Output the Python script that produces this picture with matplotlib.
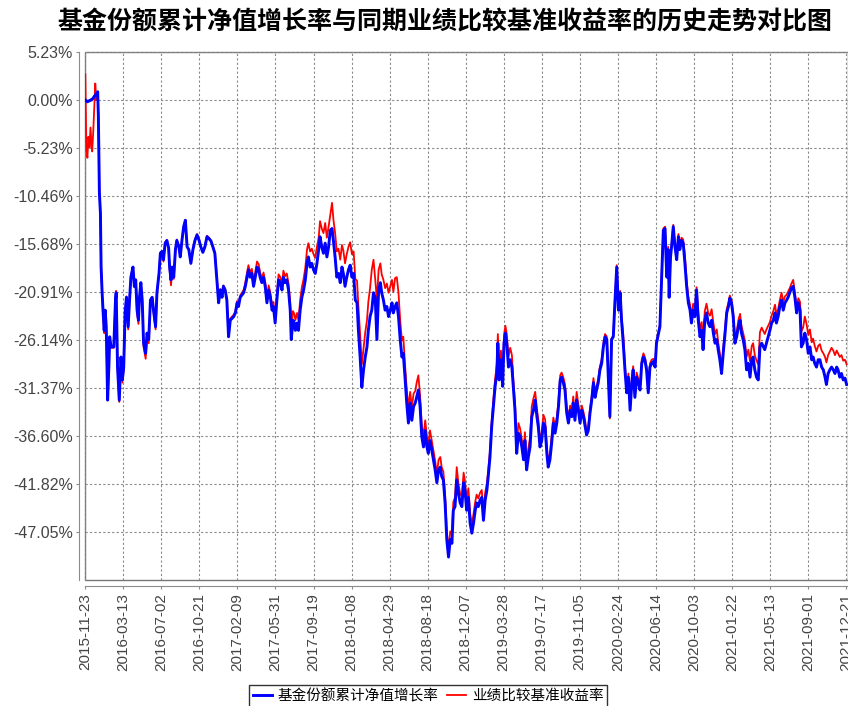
import matplotlib
matplotlib.use('Agg')
import matplotlib.pyplot as plt
import pandas as pd
from matplotlib.patches import Rectangle

# 数据：自基金成立日起的天数，以及两条曲线的百分比
start_date = '2015-11-23'
day_offset = [
    0, 3, 6, 9, 12, 15, 18, 20, 23, 26,
    29, 32, 35, 36, 38, 41, 44, 46, 49, 52,
    55, 58, 61, 65, 69, 71, 75, 83, 88, 90,
    94, 99, 104, 108, 112, 116, 120, 125, 129, 133,
    139, 143, 147, 151, 155, 158, 162, 166, 170, 176,
    180, 185, 190, 195, 199, 205, 209, 215, 219, 224,
    228, 233, 238, 243, 246, 250, 254, 258, 263, 267,
    273, 277, 282, 287, 292, 297, 302, 308, 314, 320,
    326, 332, 337, 343, 349, 355, 361, 367, 372, 378,
    384, 389, 394, 399, 403, 408, 413, 418, 423, 433,
    438, 443, 447, 452, 462, 467, 472, 476, 481, 486,
    491, 496, 501, 506, 510, 515, 520, 525, 530, 535,
    540, 545, 549, 554, 559, 564, 569, 574, 578, 583,
    588, 593, 598, 601, 606, 610, 613, 618, 622, 627,
    632, 637, 642, 647, 651, 656, 661, 666, 671, 676,
    681, 685, 690, 695, 700, 705, 710, 715, 720, 724,
    729, 734, 739, 744, 749, 753, 758, 763, 768, 773,
    778, 783, 788, 793, 797, 802, 807, 812, 817, 822,
    826, 831, 836, 841, 846, 851, 856, 861, 865, 870,
    875, 880, 885, 890, 895, 899, 904, 909, 914, 919,
    924, 928, 933, 938, 943, 948, 953, 958, 963, 967,
    972, 977, 982, 987, 992, 997, 1001, 1006, 1011, 1016,
    1021, 1026, 1031, 1036, 1040, 1045, 1050, 1055, 1060, 1065,
    1070, 1074, 1079, 1084, 1089, 1094, 1099, 1104, 1108, 1113,
    1118, 1123, 1128, 1133, 1138, 1142, 1147, 1152, 1157, 1162,
    1167, 1172, 1176, 1181, 1186, 1191, 1196, 1201, 1204, 1208,
    1213, 1218, 1222, 1226, 1230, 1235, 1240, 1245, 1249, 1254,
    1259, 1264, 1269, 1274, 1279, 1283, 1288, 1293, 1298, 1303,
    1308, 1313, 1318, 1322, 1327, 1332, 1337, 1342, 1347, 1351,
    1356, 1361, 1366, 1371, 1376, 1381, 1386, 1390, 1395, 1400,
    1405, 1410, 1415, 1420, 1424, 1429, 1434, 1439, 1444, 1449,
    1454, 1459, 1463, 1468, 1473, 1478, 1483, 1488, 1492, 1497,
    1502, 1507, 1512, 1517, 1522, 1526, 1531, 1536, 1541, 1546,
    1551, 1556, 1561, 1565, 1570, 1575, 1580, 1585, 1590, 1595,
    1599, 1604, 1609, 1614, 1619, 1624, 1629, 1633, 1638, 1643,
    1648, 1653, 1658, 1663, 1667, 1672, 1677, 1682, 1687, 1692,
    1697, 1701, 1704, 1708, 1711, 1716, 1721, 1726, 1731, 1735,
    1740, 1745, 1750, 1755, 1760, 1765, 1769, 1774, 1779, 1784,
    1789, 1794, 1799, 1803, 1808, 1813, 1818, 1823, 1828, 1833,
    1838, 1843, 1847, 1852, 1857, 1862, 1867, 1872, 1877, 1881,
    1886, 1891, 1896, 1901, 1906, 1911, 1915, 1920, 1925, 1930,
    1935, 1940, 1945, 1949, 1954, 1959, 1964, 1969, 1974, 1979,
    1983, 1988, 1993, 1998, 2003, 2008, 2013, 2017, 2022, 2027,
    2032, 2037, 2042, 2047, 2051, 2056, 2061, 2066, 2071, 2076,
    2081, 2086, 2090, 2095, 2100, 2105, 2110, 2115, 2120, 2124,
    2129, 2134, 2139, 2144, 2149, 2154, 2159, 2163, 2168, 2173,
    2178, 2183, 2188, 2193, 2197, 2202, 2207, 2212, 2217, 2222,
]
fund_growth = [
    0.0, -0.1, -0.2, -0.1, -0.1, 0.0, 0.0, 0.1, 0.2, 0.4,
    0.5, 0.7, 0.6, 0.9, -1.8, -10.1, -12.3, -18.2, -21.0, -23.2,
    -25.1, -22.9, -24.7, -32.7, -28.7, -25.8, -26.9, -26.9, -21.8, -21.0,
    -29.1, -32.7, -28.0, -30.5, -29.1, -23.2, -21.5, -24.7, -21.8, -19.3,
    -18.2, -20.3, -19.6, -22.9, -24.0, -21.5, -19.9, -21.8, -26.5, -27.6,
    -25.4, -26.1, -21.8, -21.5, -22.9, -24.7, -21.0, -18.9, -16.7, -16.5,
    -17.4, -15.6, -15.3, -16.1, -18.2, -19.6, -18.2, -19.3, -16.3, -15.3,
    -16.0, -17.1, -15.3, -13.8, -13.1, -16.0, -16.3, -17.8, -16.3, -15.3,
    -14.7, -15.3, -16.0, -16.6, -16.0, -14.9, -15.1, -15.4, -16.0, -16.7,
    -19.6, -22.1, -20.7, -21.5, -20.3, -20.7, -21.8, -25.8, -24.0, -23.6,
    -23.2, -22.1, -22.5, -21.5, -21.0, -20.3, -19.3, -18.5, -19.3, -18.9,
    -20.3, -19.3, -18.2, -18.5, -19.3, -19.9, -19.3, -20.3, -22.1, -20.7,
    -21.5, -22.9, -22.5, -24.3, -21.8, -19.6, -19.9, -20.7, -19.3, -19.9,
    -19.6, -20.7, -22.9, -26.1, -24.0, -24.3, -25.1, -24.3, -25.1, -22.9,
    -21.5, -20.7, -19.6, -17.8, -17.1, -18.2, -17.8, -18.5, -18.9, -17.8,
    -16.3, -14.9, -16.0, -16.7, -15.6, -17.1, -16.0, -14.2, -14.0, -15.3,
    -17.1, -19.3, -18.9, -19.9, -18.2, -18.9, -20.3, -19.3, -18.5, -18.0,
    -19.3, -18.9, -21.8, -22.1, -25.1, -28.0, -31.3, -29.4, -28.0, -26.9,
    -25.1, -23.6, -22.9, -21.0, -21.5, -26.1, -20.7, -19.9, -21.0, -21.8,
    -22.9, -22.5, -23.6, -22.9, -22.1, -23.2, -22.5, -22.1, -23.6, -26.1,
    -28.0, -27.6, -30.2, -33.0, -35.2, -33.0, -34.9, -33.4, -33.0, -32.4,
    -31.6, -33.4, -36.7, -37.8, -36.0, -37.8, -38.5, -37.1, -38.1, -39.2,
    -40.3, -41.7, -40.3, -40.0, -41.0, -41.4, -43.9, -47.9, -49.8, -47.9,
    -48.3, -44.7, -44.3, -41.4, -42.8, -43.9, -44.3, -41.7, -42.5, -44.7,
    -43.3, -46.1, -47.2, -46.1, -44.7, -43.9, -44.3, -43.6, -43.3, -45.8,
    -43.6, -42.5, -41.0, -38.9, -35.6, -33.4, -31.2, -29.8, -26.5, -30.5,
    -28.3, -31.2, -26.5, -25.4, -26.5, -29.1, -28.3, -29.1, -31.2, -33.8,
    -38.5, -36.3, -36.7, -37.8, -39.2, -37.1, -40.3, -38.9, -37.8, -34.5,
    -33.8, -32.7, -34.5, -35.6, -37.8, -37.1, -35.2, -35.6, -38.5, -40.0,
    -39.2, -37.4, -35.2, -36.3, -35.2, -33.4, -30.5, -30.2, -30.8, -31.6,
    -34.1, -35.2, -33.8, -34.5, -33.0, -34.9, -32.7, -33.8, -35.2, -33.8,
    -34.5, -35.6, -36.5, -36.0, -34.1, -32.7, -30.8, -32.4, -31.6, -30.8,
    -29.4, -28.7, -26.9, -25.8, -26.1, -29.8, -34.5, -26.1, -25.8, -21.8,
    -18.2, -22.9, -21.0, -24.0, -26.5, -29.4, -31.9, -30.2, -33.8, -30.8,
    -29.4, -32.4, -30.2, -30.8, -31.6, -28.7, -28.0, -28.3, -29.4, -31.9,
    -29.1, -28.7, -28.5, -29.1, -26.5, -25.6, -24.7, -19.3, -14.2, -14.0,
    -19.3, -16.3, -21.5, -17.1, -16.0, -13.8, -16.0, -17.4, -14.9, -16.3,
    -15.3, -15.6, -17.8, -20.3, -22.1, -22.9, -24.3, -22.9, -23.6, -20.7,
    -24.0, -25.8, -25.1, -27.2, -24.0, -23.2, -24.3, -24.7, -24.0, -25.4,
    -26.5, -26.1, -27.2, -28.3, -29.8, -27.5, -25.5, -23.2, -22.5, -21.6,
    -22.1, -23.6, -26.5, -25.8, -24.7, -24.0, -25.4, -26.1, -27.2, -29.4,
    -28.7, -30.2, -28.3, -28.0, -29.4, -30.2, -30.5, -26.9, -26.5, -26.9,
    -27.2, -26.5, -25.8, -25.1, -24.3, -24.0, -23.2, -24.3, -23.6, -22.5,
    -21.8, -22.9, -22.1, -21.8, -21.5, -21.0, -20.5, -20.3, -21.5, -23.2,
    -22.1, -22.9, -26.9, -26.5, -25.4, -26.1, -27.6, -26.9, -28.3, -28.0,
    -28.7, -29.1, -28.3, -28.3, -29.1, -29.4, -30.2, -31.0, -29.8, -29.4,
    -29.1, -29.4, -29.8, -29.1, -29.4, -30.2, -29.8, -30.5, -30.3, -31.0,
]
benchmark_return = [
    2.8, -5.5, -6.3, -4.0, -5.2, -3.0, -4.8, -5.6, -3.5, -0.8,
    1.8, 0.0, 0.4, 0.9, -1.8, -10.1, -12.3, -18.2, -21.2, -23.6,
    -25.4, -23.0, -25.0, -32.7, -28.9, -25.8, -27.0, -27.0, -21.6, -20.8,
    -29.3, -32.9, -28.4, -30.8, -29.3, -23.2, -21.4, -25.0, -21.7, -19.2,
    -18.2, -20.4, -19.6, -23.2, -24.4, -21.6, -19.9, -22.0, -26.9, -28.2,
    -25.8, -26.5, -21.9, -21.5, -23.1, -25.0, -21.0, -18.9, -16.6, -16.5,
    -17.6, -15.5, -15.3, -16.2, -18.5, -20.2, -18.4, -19.5, -16.3, -15.2,
    -16.0, -17.1, -15.2, -13.8, -13.1, -16.0, -16.3, -17.8, -16.3, -15.2,
    -14.6, -15.2, -16.0, -16.5, -15.9, -14.8, -15.0, -15.3, -15.9, -16.6,
    -19.5, -22.0, -20.6, -21.4, -20.2, -20.6, -21.7, -25.6, -23.8, -23.4,
    -23.0, -21.9, -22.3, -21.3, -20.7, -19.9, -18.8, -18.0, -18.8, -18.4,
    -19.8, -18.8, -17.6, -17.9, -18.8, -19.4, -18.8, -19.8, -21.6, -20.2,
    -21.0, -22.4, -22.0, -23.8, -21.2, -19.0, -19.3, -20.1, -18.6, -19.2,
    -18.9, -20.0, -22.0, -25.0, -23.0, -23.3, -24.0, -23.2, -24.0, -21.8,
    -20.4, -19.5, -18.3, -16.3, -15.6, -16.5, -16.2, -16.8, -17.2, -16.0,
    -15.0, -13.2, -14.0, -14.5, -13.4, -15.0, -13.8, -12.5, -11.2, -13.0,
    -14.5, -16.5, -16.2, -17.4, -15.8, -16.4, -17.8, -16.8, -16.0, -15.5,
    -16.8, -16.5, -19.5, -19.7, -22.5, -25.5, -28.8, -27.0, -25.3, -24.0,
    -22.0, -20.5, -18.5, -17.4, -19.5, -21.8, -18.5, -17.8, -19.0, -19.6,
    -20.5, -20.0, -21.0, -20.3, -19.6, -20.9, -19.4, -19.3, -21.0, -24.0,
    -26.2, -25.8, -28.8, -31.5, -33.6, -31.8, -33.5, -32.0, -31.7, -30.8,
    -30.0, -32.2, -35.5, -36.6, -34.9, -36.7, -37.6, -36.0, -37.1, -38.2,
    -39.3, -40.8, -39.2, -38.9, -40.0, -40.5, -43.0, -47.0, -49.0, -47.0,
    -47.3, -43.8, -43.3, -40.0, -41.8, -42.9, -43.2, -40.6, -41.5, -43.7,
    -42.3, -45.0, -46.3, -45.1, -43.8, -43.0, -43.4, -42.8, -42.5, -45.0,
    -42.8, -41.8, -40.3, -38.3, -35.0, -32.6, -30.4, -28.8, -25.5, -29.5,
    -27.3, -30.0, -25.6, -24.6, -25.5, -28.0, -27.0, -27.8, -30.4, -33.0,
    -37.6, -35.2, -35.8, -37.0, -38.4, -36.2, -39.4, -38.0, -36.8, -33.4,
    -32.5, -31.8, -33.7, -34.8, -36.8, -36.3, -34.3, -34.8, -37.8, -39.4,
    -38.6, -36.6, -34.6, -35.6, -34.6, -32.8, -30.0, -29.7, -30.2, -31.0,
    -33.5, -34.6, -33.3, -34.0, -32.3, -34.4, -31.8, -33.2, -34.6, -33.3,
    -34.0, -35.0, -36.2, -35.7, -33.6, -32.3, -30.3, -32.0, -31.2, -30.4,
    -29.0, -28.3, -26.5, -25.5, -25.8, -29.5, -34.7, -26.0, -25.6, -21.6,
    -18.0, -22.6, -20.8, -23.6, -25.5, -29.0, -31.6, -29.8, -33.5, -30.3,
    -29.0, -32.0, -29.7, -30.4, -31.2, -28.3, -27.6, -28.0, -29.0, -31.6,
    -28.7, -28.3, -28.2, -29.0, -26.3, -25.4, -24.5, -19.1, -14.0, -13.8,
    -19.0, -16.0, -21.2, -16.8, -15.8, -13.6, -15.7, -17.0, -14.6, -15.8,
    -15.0, -15.2, -17.0, -19.6, -21.5, -22.3, -23.6, -22.2, -22.8, -20.4,
    -23.2, -25.0, -24.2, -26.2, -23.0, -22.2, -23.2, -23.5, -22.8, -24.3,
    -25.5, -25.0, -26.4, -27.6, -29.3, -27.0, -25.0, -22.8, -22.1, -21.3,
    -21.8, -23.2, -26.0, -25.3, -24.0, -23.3, -24.6, -25.4, -26.2, -28.0,
    -27.2, -28.5, -26.8, -26.5, -27.8, -28.4, -28.8, -25.3, -24.8, -25.2,
    -25.5, -25.0, -24.6, -24.2, -23.5, -23.0, -22.3, -23.4, -22.8, -21.8,
    -21.0, -22.0, -21.4, -21.2, -20.9, -20.5, -20.0, -19.6, -21.0, -22.6,
    -21.6, -22.0, -25.2, -24.8, -23.6, -24.4, -25.6, -25.0, -26.4, -26.0,
    -26.8, -27.4, -26.8, -26.6, -27.3, -27.6, -28.0, -28.6, -27.8, -27.4,
    -27.0, -27.3, -27.8, -27.3, -27.6, -28.0, -27.8, -28.4, -28.3, -28.8,
]

y_ticks = [5.23, 0.00, -5.23, -10.46, -15.68, -20.91, -26.14, -31.37, -36.60, -41.82, -47.05]
x_tick_labels = [
    '2015-11-23', '2016-03-13', '2016-07-02', '2016-10-21', '2017-02-09',
    '2017-05-31', '2017-09-19', '2018-01-08', '2018-04-29', '2018-08-18',
    '2018-12-07', '2019-03-28', '2019-07-17', '2019-11-05', '2020-02-24',
    '2020-06-14', '2020-10-03', '2021-01-22', '2021-05-13', '2021-09-01',
    '2021-12-21',
]
title = '基金份额累计净值增长率与同期业绩比较基准收益率的历史走势对比图'
legend_labels = ['基金份额累计净值增长率', '业绩比较基准收益率']

plt.rcParams['font.family'] = ['Liberation Sans', 'Noto Sans CJK SC', 'DejaVu Sans']

start = pd.Timestamp(start_date)
dates = start + pd.to_timedelta(day_offset, unit='D')

fig = plt.figure(figsize=(8.48, 7.06), dpi=100)
ax = fig.add_axes([85 / 848, 1 - 580 / 706, 1 - 85 / 848, (580 - 52) / 706])

# 先画红线，蓝线压在上面
line_b, = ax.plot(dates, benchmark_return, color='#ff0000', lw=1.3)
line_f, = ax.plot(dates, fund_growth, color='#0000ff', lw=2.1)

ax.set_xlim(start - pd.Timedelta(days=1), start + pd.Timedelta(days=2226))
ax.set_ylim(-52.3, 5.23)

ax.set_yticks(y_ticks)
ax.set_yticklabels([f'{v:.2f}%' for v in y_ticks])
ax.set_xticks(pd.to_datetime(x_tick_labels))
ax.set_xticklabels(x_tick_labels)

ax.grid(True, color='#8a8a8a', linestyle=(0, (2, 2)), linewidth=0.8)

# 坐标轴线与绘图区分开一点
for side in ['top', 'right']:
    ax.spines[side].set_visible(False)
for side in ['left', 'bottom']:
    ax.spines[side].set_position(('outward', 4))
    ax.spines[side].set_color('#8c8c8c')
ax.add_patch(Rectangle((0, 0), 1, 1, transform=ax.transAxes, fill=False,
                       edgecolor='#777777', linewidth=1.0, clip_on=False))

ax.tick_params(axis='both', length=2.5, color='#8c8c8c', labelcolor='#444444',
               labelsize=11.5)
ax.tick_params(axis='y', pad=2)
ax.tick_params(axis='x', pad=3, labelrotation=90, labelsize=11)

fig.text(445 / 848, 1 - 22 / 706, title, ha='center', va='center',
         fontsize=18, fontweight='bold', family=['Noto Sans CJK SC'])

leg = fig.legend([line_f, line_b], legend_labels, loc='center',
                 bbox_to_anchor=(428 / 848, 1 - 696 / 706), ncol=2,
                 frameon=True, fancybox=False, edgecolor='black',
                 prop={'family': 'Noto Sans CJK SC', 'size': 10.5},
                 handlelength=1.3, handletextpad=0.4, columnspacing=0.6,
                 borderpad=0.25, borderaxespad=0)
leg.get_frame().set_linewidth(1.0)

fig.savefig('out.png', dpi=100)
